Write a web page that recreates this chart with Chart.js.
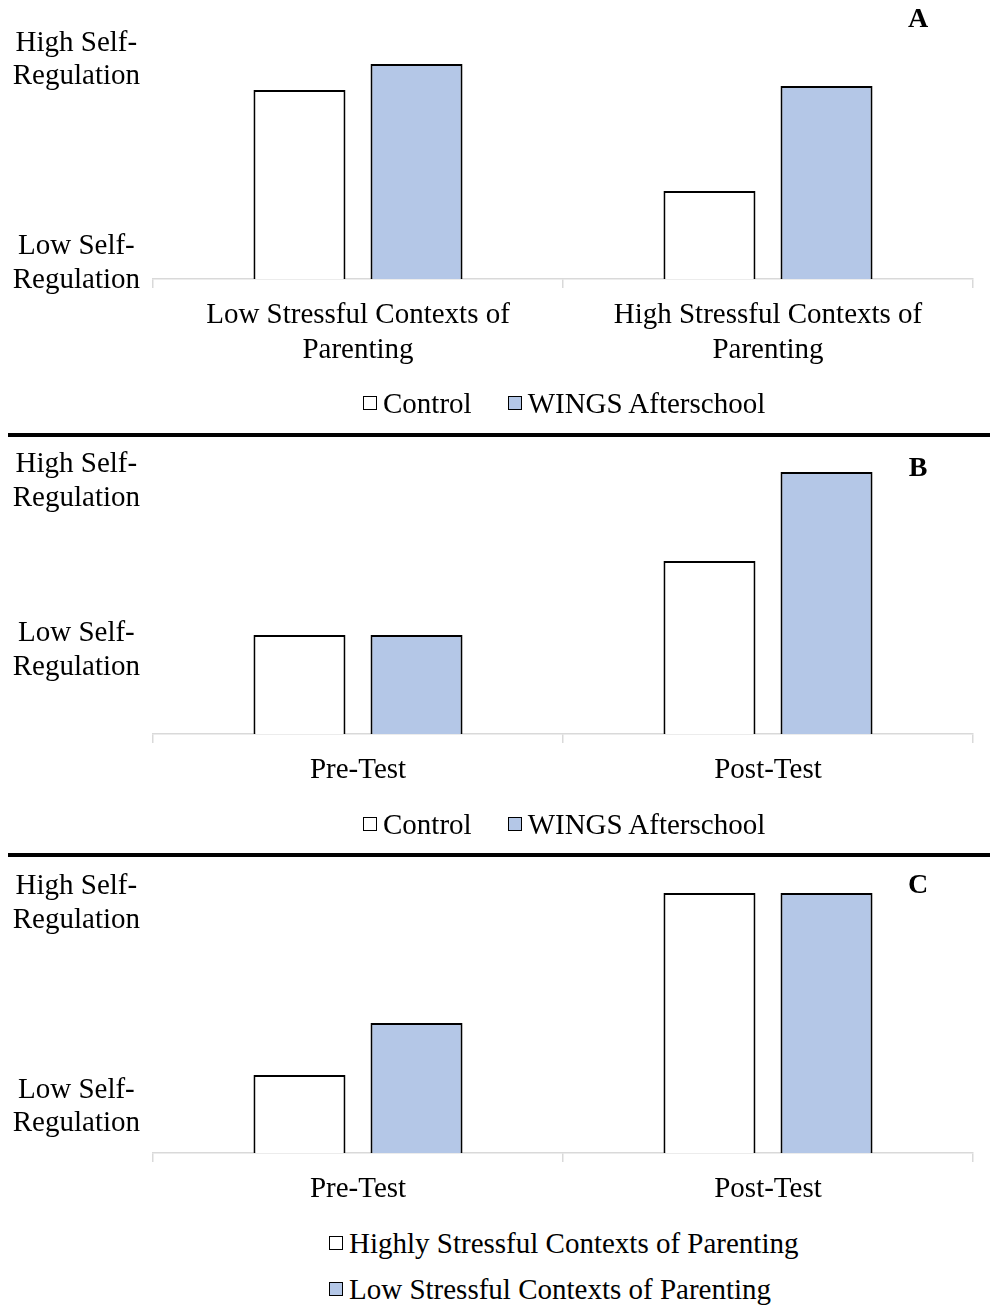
<!DOCTYPE html>
<html>
<head>
<meta charset="utf-8">
<script src="https://cdn.jsdelivr.net/npm/chart.js@4.4.0/dist/chart.umd.min.js"></script>
<style>
  html, body { margin: 0; padding: 0; background: #fff; }
  body { width: 990px; height: 1305px; position: relative; overflow: hidden;
         font-family: "Liberation Serif", "Times New Roman", serif; color: #000; }
  canvas { position: absolute; left: 0; }
  .rule { position: absolute; left: 8px; width: 982px; height: 4px; background: #000; }
  .tag { position: absolute; left: 898px; width: 40px; text-align: center;
         font-weight: bold; font-size: 28px; line-height: 28px; }
  .legend { position: absolute; font-size: 29px; line-height: 32px; white-space: nowrap;
            display: flex; align-items: center; }
  .box { width: 12px; height: 12px; border: 1.5px solid #000; margin-right: 6px; }
</style>
</head>
<body>
<canvas id="chartA" width="990" height="369" style="top:0px"></canvas>
<canvas id="chartB" width="990" height="392" style="top:400px"></canvas>
<canvas id="chartC" width="990" height="391" style="top:820px"></canvas>

<div class="tag" style="top:4px">A</div>
<div class="tag" style="top:453px">B</div>
<div class="tag" style="top:870px">C</div>

<div class="rule" style="top:433px"></div>
<div class="rule" style="top:853px"></div>

<div id="legendA" class="legend" style="left:363px; top:387px"></div>
<div id="legendB" class="legend" style="left:363px; top:808px"></div>
<div id="legendC1" class="legend" style="left:329px; top:1227px"></div>
<div id="legendC2" class="legend" style="left:329px; top:1273px"></div>

<script>
// y axis only carries two verbal levels
const levelLabels = [['Low Self-', 'Regulation'], ['High Self-', 'Regulation']];

// Panel A
const catsA = [['Low Stressful Contexts of', 'Parenting'], ['High Stressful Contexts of', 'Parenting']];
const controlA = [8.25, 3.84];
const wingsA = [9.39, 8.43];
const levelsA = [0.68, 9.58];

// Panel B
const catsB = ['Pre-Test', 'Post-Test'];
const controlB = [3.61, 6.31];
const wingsB = [3.61, 9.56];
const levelsB = [3.05, 9.22];

// Panel C
const catsC = ['Pre-Test', 'Post-Test'];
const highStressC = [2.86, 9.52];
const lowStressC = [4.76, 9.52];
const levelsC = [1.70, 9.14];

const seriesAB = ['Control', 'WINGS Afterschool'];
const seriesC = ['Highly Stressful Contexts of Parenting', 'Low Stressful Contexts of Parenting'];
const fills = ['#ffffff', '#b4c7e7'];

const FONT = '"Liberation Serif", "Times New Roman", serif';

function makeChart(id, labels, s1, s2, names, levels, padTop, xHeight) {
  const ctx = document.getElementById(id).getContext('2d');
  const ds = (name, data, fill) => ({
    label: name,
    data: data,
    backgroundColor: fill,
    borderColor: '#000',
    borderWidth: 2,
    categoryPercentage: 0.571,
    barPercentage: 0.786
  });
  return new Chart(ctx, {
    type: 'bar',
    data: {
      labels: labels,
      datasets: [ds(names[0], s1, fills[0]), ds(names[1], s2, fills[1])]
    },
    options: {
      responsive: false,
      animation: false,
      devicePixelRatio: 1,
      layout: { padding: { left: 0, right: 17, top: padTop, bottom: 0 } },
      plugins: { legend: { display: false }, tooltip: { enabled: false } },
      scales: {
        x: {
          grid: { offset: true, drawOnChartArea: false, drawTicks: true, tickLength: 9,
                  color: '#d9d9d9', lineWidth: 1.5 },
          border: { display: true, color: '#d9d9d9', width: 1.5 },
          ticks: { color: '#000', font: { family: FONT, size: 29, lineHeight: 1.2 },
                   padding: 10, maxRotation: 0, autoSkip: false },
          afterFit: s => { s.height = xHeight; }
        },
        y: {
          min: 0,
          max: 10,
          grid: { display: false, drawTicks: false },
          border: { display: false },
          afterBuildTicks: s => { s.ticks = levels.map(v => ({ value: v })); },
          ticks: { color: '#000', font: { family: FONT, size: 29, lineHeight: 1.15 },
                   padding: 13, crossAlign: 'center',
                   callback: (v, i) => levelLabels[i] },
          afterFit: s => { s.width = 153; }
        }
      }
    }
  });
}

makeChart('chartA', catsA, controlA, wingsA, seriesAB, levelsA, 50, 90);
makeChart('chartB', catsB, controlB, wingsB, seriesAB, levelsB, 60, 58);
makeChart('chartC', catsC, highStressC, lowStressC, seriesC, levelsC, 60, 58);

// html legends (Excel layout: C stacks its two entries)
function legendItem(el, name, fill, gapAfter) {
  const box = document.createElement('span');
  box.className = 'box';
  box.style.background = fill;
  const txt = document.createElement('span');
  txt.textContent = name;
  txt.style.marginRight = gapAfter + 'px';
  el.appendChild(box);
  el.appendChild(txt);
}
['legendA', 'legendB'].forEach(id => {
  const el = document.getElementById(id);
  legendItem(el, seriesAB[0], fills[0], 36);
  legendItem(el, seriesAB[1], fills[1], 0);
});
legendItem(document.getElementById('legendC1'), seriesC[0], fills[0], 0);
legendItem(document.getElementById('legendC2'), seriesC[1], fills[1], 0);
</script>
</body>
</html>
